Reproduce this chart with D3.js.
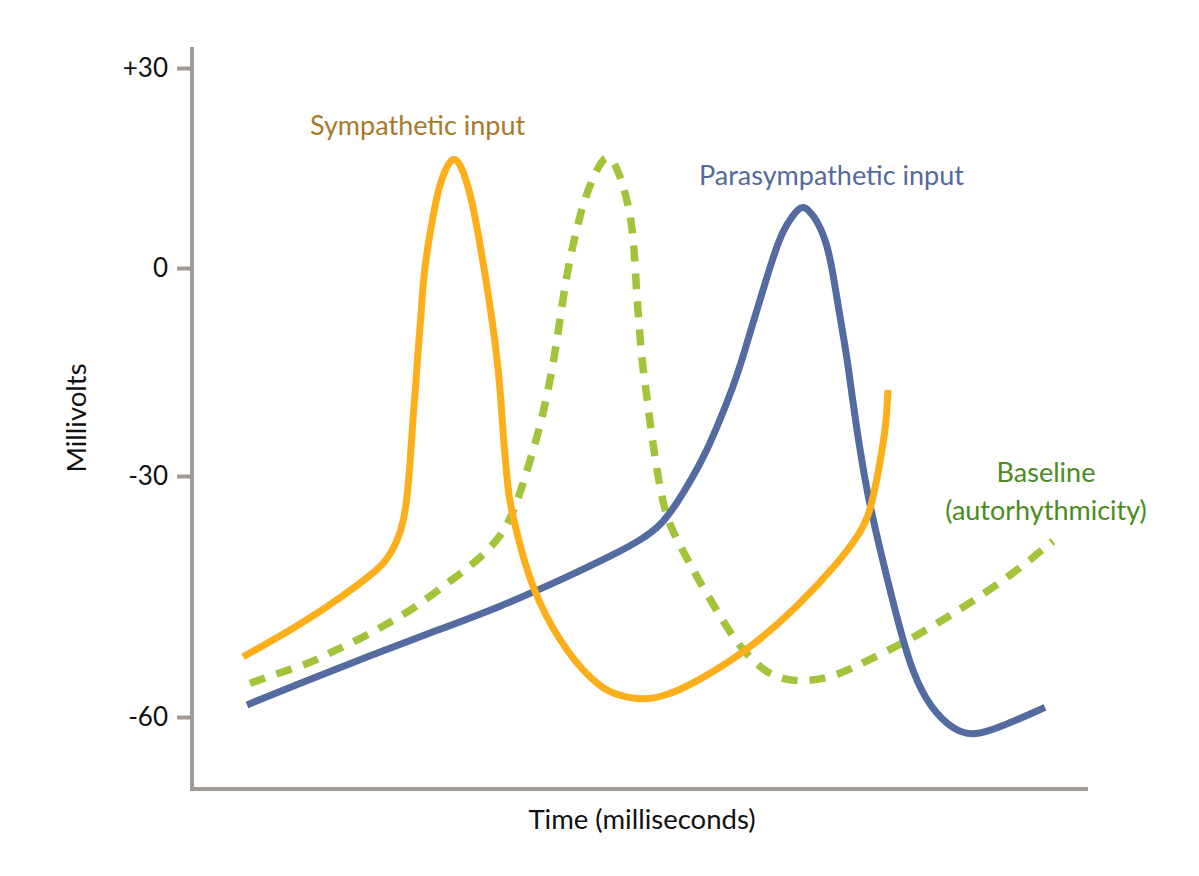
<!DOCTYPE html>
<html>
<head>
<meta charset="utf-8">
<script src="https://cdn.jsdelivr.net/npm/d3@7"></script>
<style>
  body { margin: 0; background: #fff; }
  text { font-family: "Lato", "Open Sans", sans-serif; }
</style>
</head>
<body>
<div class="canvas"></div>
<script>
// y ticks (millivolts)
const yTicks = [-60, -30, 0, 30];

// time (ms, arbitrary) and membrane potential (mV) for each trace
const sympTime = [51, 105, 155, 181, 193, 205, 212, 216, 219, 221, 224, 226, 229, 231, 235, 241, 246, 253, 258, 262, 266, 271, 280, 286, 292, 297, 302, 306, 309, 311, 314, 317, 325, 331, 345, 375, 408, 428, 451, 473, 501, 555, 605, 651, 665, 678, 688, 694, 696];
const sympMv = [-52.5, -48.8, -44.6, -42.1, -40.8, -38.3, -35.6, -31.7, -26.3, -21.5, -16.6, -11.8, -7.1, -2.2, 2.7, 7.7, 11.7, 14.7, 16.0, 16.4, 16.0, 14.7, 10.2, 5.2, 0.1, -4.6, -9.4, -14.3, -19.0, -23.8, -28.7, -33.0, -37.1, -40.1, -45.5, -52.1, -56.4, -57.4, -57.9, -57.4, -55.9, -51.8, -46.4, -40.1, -37.6, -35.0, -28.0, -23.0, -17.6];

const baseTime = [58, 85, 118, 141, 168, 195, 221, 258, 285, 308, 321, 331, 348, 358, 365, 371, 378, 385, 391, 401, 410, 416, 422, 431, 440, 443, 445, 448, 451, 455, 458, 463, 470, 478, 493, 505, 525, 545, 571, 591, 611, 641, 675, 721, 771, 821, 861];
const baseMv = [-55.8, -54.6, -53.3, -51.8, -50.3, -48.4, -46.6, -43.1, -40.6, -37.7, -34.7, -31.0, -23.1, -16.3, -10.5, -4.3, 1.5, 6.0, 9.6, 13.6, 16.2, 16.7, 16.0, 12.7, 7.1, 0.6, -4.3, -10.0, -14.7, -18.6, -22.4, -27.3, -33.0, -36.3, -39.8, -42.6, -46.8, -50.9, -54.3, -55.3, -55.6, -55.1, -53.0, -50.2, -46.4, -42.2, -38.1];

const paraTime = [55, 108, 175, 241, 308, 375, 425, 448, 468, 485, 501, 515, 528, 541, 551, 561, 571, 581, 591, 601, 606, 611, 616, 625, 635, 641, 648, 655, 661, 668, 676, 688, 708, 721, 738, 761, 781, 808, 853];
const paraMv = [-58.5, -55.8, -52.5, -49.4, -46.3, -42.6, -39.6, -38.0, -36.3, -33.4, -30.1, -26.3, -21.9, -17.2, -12.8, -7.9, -3.2, 1.6, 5.7, 7.9, 8.8, 9.2, 8.8, 7.2, 3.7, -0.7, -7.1, -12.8, -19.5, -26.3, -32.6, -39.2, -49.2, -54.6, -58.8, -61.6, -62.4, -61.3, -58.8];

const width = 1199, height = 876;

const svg = d3.select('.canvas')
    .append('svg')
    .attr('width', width)
    .attr('height', height);

const x = d3.scaleLinear()
    .domain([0, 896])
    .range([192, 1088]);

// the original drawing spaces its ticks unevenly, so the scale is piecewise
const y = d3.scaleLinear()
    .domain(yTicks)
    .range([717, 476, 268, 68]);

const axisColor = '#a39a93';

// axis frame
svg.append('line')
    .attr('x1', 192).attr('x2', 192)
    .attr('y1', 47).attr('y2', 791)
    .attr('stroke', axisColor)
    .attr('stroke-width', 4);
svg.append('line')
    .attr('x1', 190).attr('x2', 1088)
    .attr('y1', 789).attr('y2', 789)
    .attr('stroke', axisColor)
    .attr('stroke-width', 4);

const yAxis = d3.axisLeft(y)
    .tickValues(yTicks)
    .tickSize(15)
    .tickPadding(9)
    .tickFormat(d => d > 0 ? `+${d}` : `${d}`);

const yAxisGroup = svg.append('g')
    .attr('transform', 'translate(192, 0)')
    .call(yAxis);

yAxisGroup.select('.domain').remove();
yAxisGroup.selectAll('line')
    .attr('stroke', axisColor)
    .attr('stroke-width', 4);
yAxisGroup.selectAll('text')
    .attr('font-size', 26)
    .attr('fill', '#111')
    .attr('font-family', '"Lato", "Open Sans", sans-serif');

// curves (basis smooths out the hand-read points)
const line = d3.line()
    .x(d => x(d[0]))
    .y(d => y(d[1]))
    .curve(d3.curveBasis);

svg.append('path')
    .datum(d3.zip(baseTime, baseMv))
    .attr('d', line)
    .attr('fill', 'none')
    .attr('stroke', '#a3c43a')
    .attr('stroke-width', 7.5)
    .attr('stroke-dasharray', '16,12');

svg.append('path')
    .datum(d3.zip(paraTime, paraMv))
    .attr('d', line)
    .attr('fill', 'none')
    .attr('stroke', '#536b9e')
    .attr('stroke-width', 7);

svg.append('path')
    .datum(d3.zip(sympTime, sympMv))
    .attr('d', line)
    .attr('fill', 'none')
    .attr('stroke', '#fcaf1b')
    .attr('stroke-width', 7);

// labels
svg.append('text')
    .attr('x', 310).attr('y', 135)
    .attr('font-size', 27)
    .attr('fill', '#a8792a')
    .text('Sympathetic input');

svg.append('text')
    .attr('x', 699).attr('y', 185)
    .attr('font-size', 27)
    .attr('fill', '#546a9e')
    .text('Parasympathetic input');

svg.append('text')
    .attr('x', 1046).attr('y', 482)
    .attr('text-anchor', 'middle')
    .attr('font-size', 27)
    .attr('fill', '#4b8b1f')
    .text('Baseline');
svg.append('text')
    .attr('x', 1046).attr('y', 520)
    .attr('text-anchor', 'middle')
    .attr('font-size', 27)
    .attr('fill', '#4b8b1f')
    .text('(autorhythmicity)');

svg.append('text')
    .attr('x', 642).attr('y', 829)
    .attr('text-anchor', 'middle')
    .attr('font-size', 27.5)
    .attr('fill', '#111')
    .text('Time (milliseconds)');

svg.append('text')
    .attr('transform', 'translate(86, 418) rotate(-90)')
    .attr('text-anchor', 'middle')
    .attr('font-size', 27.5)
    .attr('fill', '#111')
    .text('Millivolts');
</script>
</body>
</html>
